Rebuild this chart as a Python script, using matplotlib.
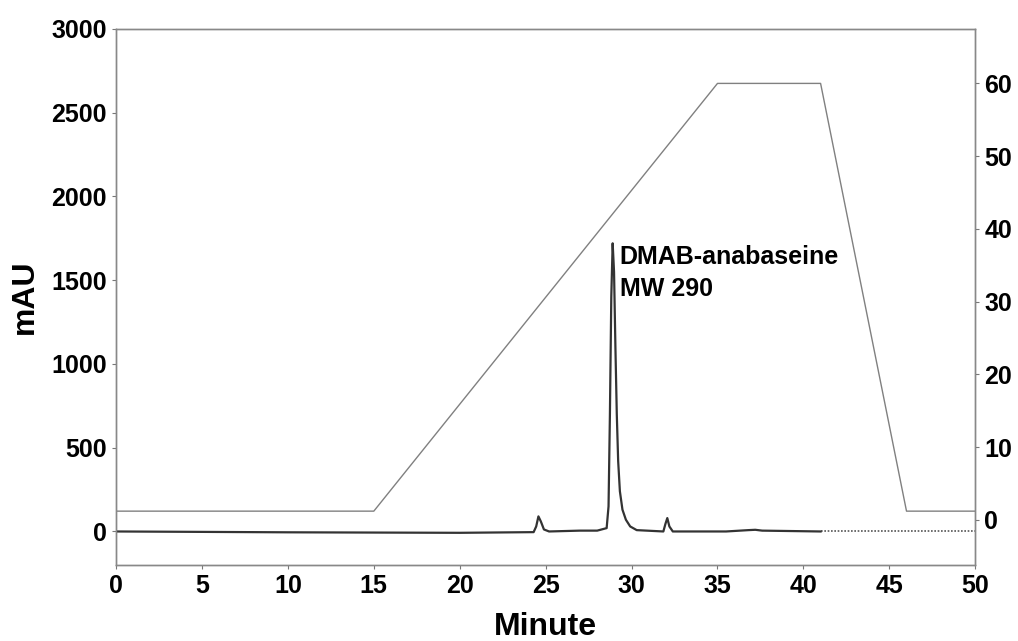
import matplotlib
matplotlib.use("Agg")
import matplotlib.pyplot as plt

plt.rcParams["font.family"] = ["Liberation Sans", "DejaVu Sans"]
plt.rcParams["font.weight"] = "bold"

# chromatogram trace (minute, mAU)
t_trace = [0, 10, 20, 24.3, 24.45, 24.58, 24.72, 24.9, 25.2, 27.0, 28.0, 28.55,
           28.66, 28.74, 28.82, 28.9, 28.98, 29.06, 29.14, 29.22, 29.32, 29.47,
           29.67, 29.92, 30.3, 31.85, 31.97, 32.08, 32.2, 32.4, 35.5, 36.8,
           37.2, 37.6, 41]
mau = [0, -5, -8, -4, 30, 90, 60, 12, 0, 5, 5, 20,
       150, 700, 1400, 1720, 1550, 1100, 700, 420, 240, 130,
       70, 30, 8, 0, 45, 80, 30, 0, 0, 8,
       10, 5, 0]
# tail after 41 min (dotted)
t_tail = [41, 50]
mau_tail = [0, 0]

# gradient program (minute, %)
t_grad = [0, 15, 35, 41, 46, 50]
pct_grad = [1.2, 1.2, 60, 60, 1.2, 1.2]

fig = plt.figure(figsize=(10.18, 6.41), dpi=100)
ax = fig.add_axes([0.114, 0.1186, 0.844, 0.8364])
ax2 = ax.twinx()

ax.plot(t_trace, mau, color="#333333", lw=1.6, zorder=3)
ax.plot(t_tail, mau_tail, color="#555555", lw=1.2, ls=(0, (1, 1)))
ax2.plot(t_grad, pct_grad, color="#808080", lw=1.0)

ax.text(29.3, 1710, "DMAB-anabaseine\nMW 290", fontsize=18, fontweight="bold",
        va="top", ha="left", linespacing=1.4)

ax.set_xlim(0, 50)
ax.set_ylim(-200, 3000)
ax2.set_ylim(-6.2, 67.5)
ax.set_xticks(range(0, 51, 5))
ax.set_yticks(range(0, 3001, 500))
ax2.set_yticks(range(0, 61, 10))

ax.set_xlabel("Minute", fontsize=23, fontweight="bold", labelpad=10)
ax.set_ylabel("mAU", fontsize=23, fontweight="bold", labelpad=8)

for a in (ax, ax2):
    a.tick_params(labelsize=18, length=3, color="#777777")
    for s in a.spines.values():
        s.set_color("#888888")
        s.set_linewidth(1.0)
    for lab in a.get_xticklabels() + a.get_yticklabels():
        lab.set_fontweight("bold")

fig.savefig("out.png", dpi=100)
